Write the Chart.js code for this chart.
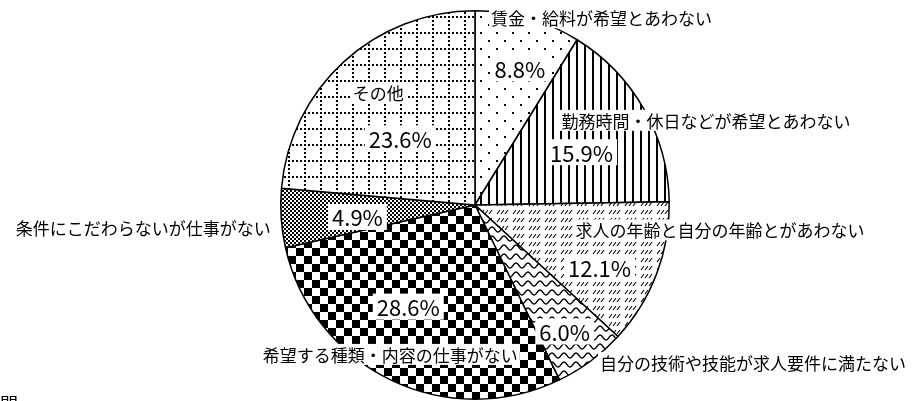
<!DOCTYPE html>
<html>
<head>
<meta charset="utf-8">
<script src="https://cdn.jsdelivr.net/npm/chart.js@4.4.0/dist/chart.umd.min.js"></script>
<style>
  html, body { margin: 0; padding: 0; background: #fff; overflow: hidden; }
  #wrap { width: 920px; height: 401px; position: relative; }
</style>
</head>
<body>
<div id="wrap"><canvas id="canvas1"></canvas></div>
<script>
// data
var categories = [
	"賃金・給料が希望とあわない",
	"勤務時間・休日などが希望とあわない",
	"求人の年齢と自分の年齢とがあわない",
	"自分の技術や技能が求人要件に満たない",
	"希望する種類・内容の仕事がない",
	"条件にこだわらないが仕事がない",
	"その他"
];
var values = [8.8, 15.9, 12.1, 6.0, 28.6, 4.9, 23.6];
var valueLabels = ["8.8%", "15.9%", "12.1%", "6.0%", "28.6%", "4.9%", "23.6%"];

//--------------------------- patterns ---------------------------------------------------------------
function makePattern(w, h, draw) {
	var c = document.createElement('canvas');
	c.width = w; c.height = h;
	var g = c.getContext('2d');
	g.fillStyle = '#fff';
	g.fillRect(0, 0, w, h);
	g.fillStyle = '#000';
	g.strokeStyle = '#000';
	draw(g);
	return g.createPattern(c, 'repeat');
}

var patDots = makePattern(16, 16, function(g) {
	g.fillRect(0, 0, 2, 2);
	g.fillRect(8, 8, 2, 2);
});
var patVert = makePattern(8, 4, function(g) {
	g.fillRect(0, 0, 2, 4);
});
var patHatch = makePattern(16, 8, function(g) {
	g.lineWidth = 1.1;
	[1, 5, 9].forEach(function(x) {
		g.beginPath();
		g.moveTo(x, 6);
		g.lineTo(x + 3, 2);
		g.stroke();
	});
});
var patWave = makePattern(12, 9, function(g) {
	g.lineWidth = 1.4;
	g.beginPath();
	for (var x = 0; x <= 12; x += 0.5) {
		var y = 4.5 - 2.5 * Math.cos(2 * Math.PI * x / 12);
		if (x == 0) g.moveTo(x, y); else g.lineTo(x, y);
	}
	g.stroke();
});
var patChecker = makePattern(16, 16, function(g) {
	g.fillRect(0, 0, 8, 8);
	g.fillRect(8, 8, 8, 8);
});
var patSmall = makePattern(4, 4, function(g) {
	g.fillRect(0, 0, 2, 2);
	g.fillRect(2, 2, 2, 2);
});
var patGrid = makePattern(16, 16, function(g) {
	for (var i = 0; i < 16; i += 4) {
		g.fillRect(0, i, 2, 2);
		g.fillRect(i, 0, 2, 2);
	}
});

var fills = [patDots, patVert, patHatch, patWave, patChecker, patSmall, patGrid];

//--------------------------- labels ---------------------------------------------------------------
// offsets from pie centre (px at radius 195)
var valuePos = [[45, -137], [107, -53], [125, 63], [90, 127], [-67, 102], [-118, 12], [-75, -67]];
var namePos = [[127, -188], [232, -85], [246, 25], [279, 158], [-85, 150], [-333, 23], [-97, -113]];

function boxText(ctx, text, x, y, font, pad) {
	ctx.font = font;
	var w = ctx.measureText(text).width;
	var h = parseInt(font.match(/(\d+)px/)[1], 10);
	ctx.fillStyle = '#fff';
	ctx.fillRect(x - w / 2 - pad, y - h / 2 - 2, w + pad * 2, h + 4);
	ctx.fillStyle = '#000';
	ctx.fillText(text, x, y + 1);
}

var labelPlugin = {
	id: 'pieLabels',
	afterDatasetsDraw: function(chart) {
		var ctx = chart.ctx;
		var arc = chart.getDatasetMeta(0).data[0];
		var cx = arc.x, cy = arc.y, k = arc.outerRadius / 195;
		ctx.save();
		ctx.textAlign = 'center';
		ctx.textBaseline = 'middle';
		for (var i = 0; i < categories.length; i++) {
			boxText(ctx, categories[i], cx + namePos[i][0] * k, cy + namePos[i][1] * k,
				'17px "Noto Sans CJK JP"', 2);
			boxText(ctx, valueLabels[i], cx + valuePos[i][0] * k, cy + valuePos[i][1] * k,
				'22px "Noto Sans CJK JP"', 4);
		}
		// cut-off text at bottom left
		ctx.textAlign = 'left';
		ctx.textBaseline = 'top';
		ctx.font = '18px "Noto Sans CJK JP"';
		ctx.fillText("間", 0, 395);
		ctx.restore();
	}
};

window.onload = function() {
	var ctx = document.getElementById("canvas1").getContext("2d");
	window.myPie = new Chart(ctx, {
		type: 'pie',
		data: {
			labels: categories,
			datasets: [{
				data: values,
				backgroundColor: fills,
				borderColor: '#000',
				borderWidth: 1.5
			}]
		},
		options: {
			responsive: true,
			maintainAspectRatio: false,
			animation: false,
			layout: { padding: { top: 10, bottom: 1, left: 30, right: 0 } },
			plugins: {
				legend: { display: false },
				tooltip: { enabled: false }
			}
		},
		plugins: [labelPlugin]
	});
};
</script>
</body>
</html>
